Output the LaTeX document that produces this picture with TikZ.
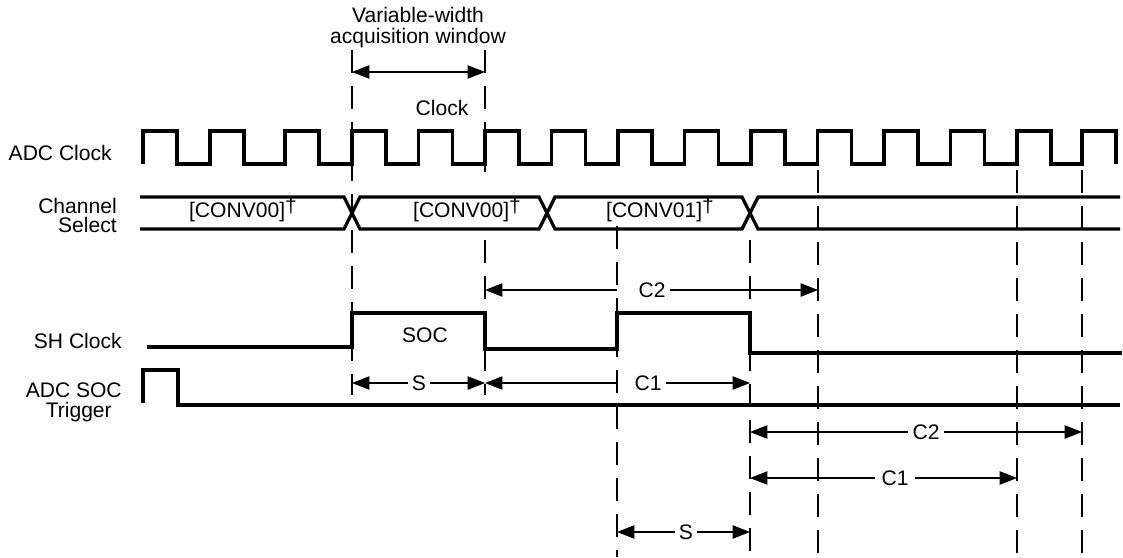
\documentclass[tikz,border=0pt]{standalone}
\usepackage{fontspec}
\setmainfont{Liberation Sans}
\usetikzlibrary{arrows.meta}
\tikzset{
  wave/.style={line width=2.5pt},
  guide/.style={line width=1.35pt, dash pattern=on 17pt off 10pt},
  dimarrow/.style={line width=0.8pt, -{Triangle[length=13pt,width=10pt]}},
  lbl/.style={font=\fontsize{15.8pt}{16pt}\selectfont, inner sep=3pt},
}
\newcommand{\dagg}{\raisebox{0.2em}{†}}
\begin{document}
\begin{tikzpicture}[x=0.75pt,y=-0.75pt]
    \useasboundingbox (0,0) rectangle (1123,557);

    \foreach \n/\x/\a/\b in {g1/352/50/395, g2/485/50/172, g3/617/226/557, g4/750/240/557,
                            g5/818/170/557, g6/1017/170/557, g7/1082/170/557}
        {\coordinate (\n) at (\x,\a); \draw[guide] (\n) -- (\x,\b);}
    \draw[guide] (485,240) -- (485,395);

    % signal names
    \node[lbl, anchor=base east] (adcclk) at (116,160) {ADC Clock};
    \node[lbl, anchor=base east] (chan) at (121,213) {Channel};
    \node[lbl, anchor=base east] (sel) at (121,232) {Select};
    \node[lbl, anchor=base east] (shclk) at (126,348) {SH Clock};
    \node[lbl, anchor=base east] (adcsoc) at (126,397) {ADC SOC};
    \node[lbl, anchor=base east] (trig) at (116,417) {Trigger};

    % waveforms
    \draw[wave] (143,164) \foreach \r in {143,210,285,352,418.5,485,551.5,618,684.5,751,817.5,884,950.5,1017,1082}
        { -- (\r,164) -- (\r,131) -- ({\r+34},131) -- ({\r+34},164) };
    \draw[wave] (140,197) -- (344,197) -- (360,229) -- (539,229) -- (555,197) -- (742,197) -- (758,229) -- (1120,229);
    \draw[wave] (140,229) -- (344,229) -- (360,197) -- (539,197) -- (555,229) -- (742,229) -- (758,197) -- (1120,197);
    \draw[wave] (147,347) -- (352,347) -- (352,313) -- (485,313) -- (485,349) -- (617,349) -- (617,313)
        -- (750,313) -- (750,353) -- (1122,353);
    \draw[wave] (143,403) -- (143,370) -- (178,370) -- (178,405) -- (1120,405);

    \node[lbl, anchor=base] (conv0) at (243,217) {[CONV00]\dagg};
    \node[lbl, anchor=base] (conv1) at (467,217) {[CONV00]\dagg};
    \node[lbl, anchor=base] (conv2) at (660,217) {[CONV01]\dagg};
    \node[lbl, anchor=base] (soc) at (425,342) {SOC};

    % acquisition window
    \node[lbl, anchor=base] (var) at (418,22) {Variable-width};
    \node[lbl, anchor=base] (acq) at (418,43) {acquisition window};
    \node[lbl, anchor=base] (clk) at (442,115) {Clock};
    \coordinate (win) at (418,72);
    \draw[dimarrow, {Triangle[length=13pt,width=10pt]}-{Triangle[length=13pt,width=10pt]}] (win -| g1) -- (win -| g2);

    % timing marks
    \node[lbl] (s1) at (419,383) {S};
    \node[lbl] (c1a) at (648,383) {C1};
    \node[lbl] (c2a) at (652,290) {C2};
    \node[lbl] (c2b) at (926,432) {C2};
    \node[lbl, inner sep=5pt] (c1b) at (895,478) {C1};
    \node[lbl] (s2) at (686,532) {S};

    \draw[dimarrow] (c2a -| g3) -- (c2a -| g2);
    \draw[dimarrow] (c2a) -- (c2a -| g5);
    \draw[dimarrow] (s1) -- (s1 -| g1);
    \draw[dimarrow] (s1) -- (s1 -| g2);
    \draw[dimarrow] (c1a -| g3) -- (c1a -| g2);
    \draw[dimarrow] (c1a) -- (c1a -| g4);
    \draw[dimarrow] (c2b) -- (c2b -| g4);
    \draw[dimarrow] (c2b) -- (c2b -| g7);
    \draw[dimarrow] (c1b) -- (c1b -| g4);
    \draw[dimarrow] (c1b) -- (c1b -| g6);
    \draw[dimarrow] (s2) -- (s2 -| g3);
    \draw[dimarrow] (s2) -- (s2 -| g4);
\end{tikzpicture}
\end{document}
